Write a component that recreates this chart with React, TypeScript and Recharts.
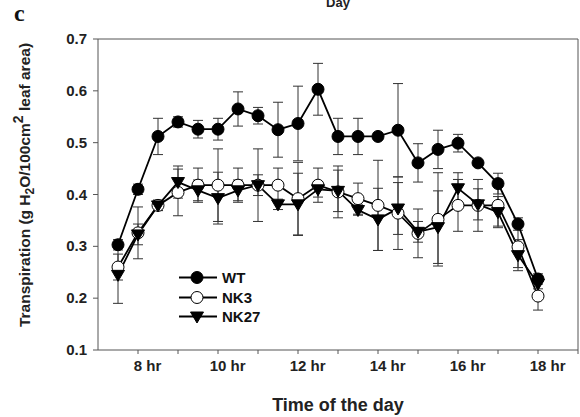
import { LineChart, Line, XAxis, YAxis, ErrorBar, ReferenceLine, Legend } from 'recharts';

const hours = [7.5, 8, 8.5, 9, 9.5, 10, 10.5, 11, 11.5, 12, 12.5, 13, 13.5, 14, 14.5, 15, 15.5, 16, 16.5, 17, 17.5, 18];

const wt = [0.303, 0.41, 0.512, 0.54, 0.526, 0.526, 0.565, 0.552, 0.525, 0.537, 0.603, 0.512, 0.512, 0.512, 0.524, 0.461, 0.487, 0.499, 0.461, 0.421, 0.343, 0.237];
const wtErr = [0.01, 0.01, 0.035, 0.01, 0.017, 0.021, 0.033, 0.016, 0.053, 0.072, 0.05, 0.035, 0.035, 0.005, 0.09, 0.037, 0.037, 0.017, 0.005, 0.02, 0.012, 0.01];

const nk3 = [0.26, 0.326, 0.379, 0.404, 0.418, 0.418, 0.418, 0.418, 0.418, 0.392, 0.418, 0.405, 0.392, 0.379, 0.364, 0.325, 0.352, 0.379, 0.379, 0.379, 0.299, 0.204];
const nk3Err = [0.025, 0.05, 0.01, 0.045, 0.033, 0.07, 0.033, 0.07, 0.033, 0.07, 0.033, 0.05, 0.03, 0.087, 0.07, 0.047, 0.09, 0.05, 0.05, 0.04, 0.04, 0.027];

const nk27 = [0.245, 0.323, 0.379, 0.424, 0.408, 0.393, 0.408, 0.418, 0.381, 0.381, 0.41, 0.407, 0.37, 0.352, 0.373, 0.328, 0.337, 0.412, 0.381, 0.366, 0.283, 0.228];
const nk27Err = [0.055, 0.02, 0.01, 0.031, 0.02, 0.05, 0.02, 0.02, 0.01, 0.06, 0.015, 0.04, 0.01, 0.06, 0.05, 0.02, 0.07, 0.03, 0.03, 0.03, 0.03, 0.01];

const xTicks = [8, 9, 10, 11, 12, 13, 14, 15, 16, 17, 18, 19];
const yTicks = [0.1, 0.2, 0.3, 0.4, 0.5, 0.6, 0.7];

const seriesNames = ['WT', 'NK3', 'NK27'];

const data = hours.map((h, i) => ({
  hour: h,
  wt: wt[i],
  wtErr: wtErr[i],
  nk3: nk3[i],
  nk3Err: nk3Err[i],
  nk27: nk27[i],
  nk27Err: nk27Err[i],
}));

const FONT = '"Liberation Sans", Arial, sans-serif';
const AXIS = '#555';

function FilledDot(props: any) {
  const { cx, cy } = props;
  if (cx == null || cy == null) return null;
  return <circle cx={cx} cy={cy} r={6} fill="#000" stroke="#000" strokeWidth={1} />;
}

function OpenDot(props: any) {
  const { cx, cy } = props;
  if (cx == null || cy == null) return null;
  return <circle cx={cx} cy={cy} r={6} fill="#fff" stroke="#000" strokeWidth={1} />;
}

function TriDot(props: any) {
  const { cx, cy } = props;
  if (cx == null || cy == null) return null;
  return <path d={`M${cx - 6.5},${cy - 4.5} L${cx + 6.5},${cy - 4.5} L${cx},${cy + 6.5} Z`} fill="#000" stroke="#000" strokeWidth={1} />;
}

// number centred on the tick, " hr" trailing after it
function HourTick(props: any) {
  const { x, y, payload } = props;
  if (payload.value % 2 !== 0) return null;
  const num = String(payload.value);
  const w = num.length * 8.3;
  return (
    <text x={x - w / 2} y={y + 15} textAnchor="start" fontFamily={FONT} fontWeight="bold" fontSize={15} fill="#222">
      {num} hr
    </text>
  );
}

function ValueTick(props: any) {
  const { x, y, payload } = props;
  return (
    <text x={x} y={y + 5} textAnchor="end" fontFamily={FONT} fontWeight="bold" fontSize={15} fill="#222">
      {payload.value.toFixed(1)}
    </text>
  );
}

function YTitle() {
  return (
    <text transform="translate(30,185) rotate(-90)" textAnchor="middle" fontFamily={FONT} fontWeight="bold" fontSize={15.5} fill="#222">
      Transpiration (g H<tspan fontSize={12} dy={4}>2</tspan>
      <tspan dy={-4}>O/100cm</tspan>
      <tspan fontSize={14} dy={-7}>2</tspan>
      <tspan dy={7}> leaf area)</tspan>
    </text>
  );
}

function XTitle() {
  return (
    <text x={338} y={411} textAnchor="middle" fontFamily={FONT} fontWeight="bold" fontSize={18} fill="#222">
      Time of the day
    </text>
  );
}

function Marker({ kind }: { kind: number }) {
  if (kind === 0) return <circle cx={18} cy={9.5} r={6} fill="#000" stroke="#000" />;
  if (kind === 1) return <circle cx={18} cy={9.5} r={6} fill="#fff" stroke="#000" />;
  return <path d="M11.5,5 L24.5,5 L18,16 Z" fill="#000" stroke="#000" />;
}

function LegendBox() {
  return (
    <div style={{ fontFamily: FONT }}>
      {seriesNames.map((name, i) => (
        <div key={name} style={{ display: 'flex', alignItems: 'center', height: 19.5 }}>
          <svg width={40} height={19}>
            <line x1={0} y1={9.5} x2={38} y2={9.5} stroke="#000" strokeWidth={2} />
            <Marker kind={i} />
          </svg>
          <span style={{ fontWeight: 'bold', fontSize: 15, color: '#111', marginLeft: 3 }}>{name}</span>
        </div>
      ))}
    </div>
  );
}

export default function App() {
  return (
    <div style={{ position: 'absolute', left: 0, top: 0, width: 580, height: 417, background: '#fff' }}>
      <LineChart width={580} height={417} data={data} margin={{ top: 39, right: 2, bottom: 37, left: 38 }}>
        <text x={14} y={21} fontFamily='"Liberation Serif", serif' fontWeight="bold" fontSize={24} fill="#111">
          c
        </text>
        <text x={338} y={7} textAnchor="middle" fontFamily={FONT} fontWeight="bold" fontSize={13} fill="#222">
          Day
        </text>
        <XAxis
          type="number"
          dataKey="hour"
          domain={[7, 19]}
          ticks={xTicks}
          allowDataOverflow
          height={30}
          tickSize={4}
          stroke={AXIS}
          tick={<HourTick />}
          label={<XTitle />}
        />
        <YAxis
          type="number"
          domain={[0.1, 0.7]}
          ticks={yTicks}
          allowDataOverflow
          width={60}
          tickSize={5}
          tickMargin={6}
          stroke={AXIS}
          tick={<ValueTick />}
          label={<YTitle />}
        />
        <ReferenceLine y={0.7} stroke={AXIS} strokeWidth={1} />
        <ReferenceLine x={19} stroke={AXIS} strokeWidth={1} />
        <Legend
          layout="vertical"
          align="center"
          verticalAlign="middle"
          content={<LegendBox />}
          wrapperStyle={{ position: 'absolute', left: 179, top: 268, width: 90, height: 60 }}
        />
        <Line dataKey="nk3" name="NK3" stroke="#000" strokeWidth={1.8} dot={<OpenDot />} isAnimationActive={false}>
          <ErrorBar dataKey="nk3Err" width={5} stroke="#333" strokeWidth={1} direction="y" />
        </Line>
        <Line dataKey="nk27" name="NK27" stroke="#000" strokeWidth={1.8} dot={<TriDot />} isAnimationActive={false}>
          <ErrorBar dataKey="nk27Err" width={5} stroke="#333" strokeWidth={1} direction="y" />
        </Line>
        <Line dataKey="wt" name="WT" stroke="#000" strokeWidth={1.8} dot={<FilledDot />} isAnimationActive={false}>
          <ErrorBar dataKey="wtErr" width={5} stroke="#333" strokeWidth={1} direction="y" />
        </Line>
      </LineChart>
    </div>
  );
}
